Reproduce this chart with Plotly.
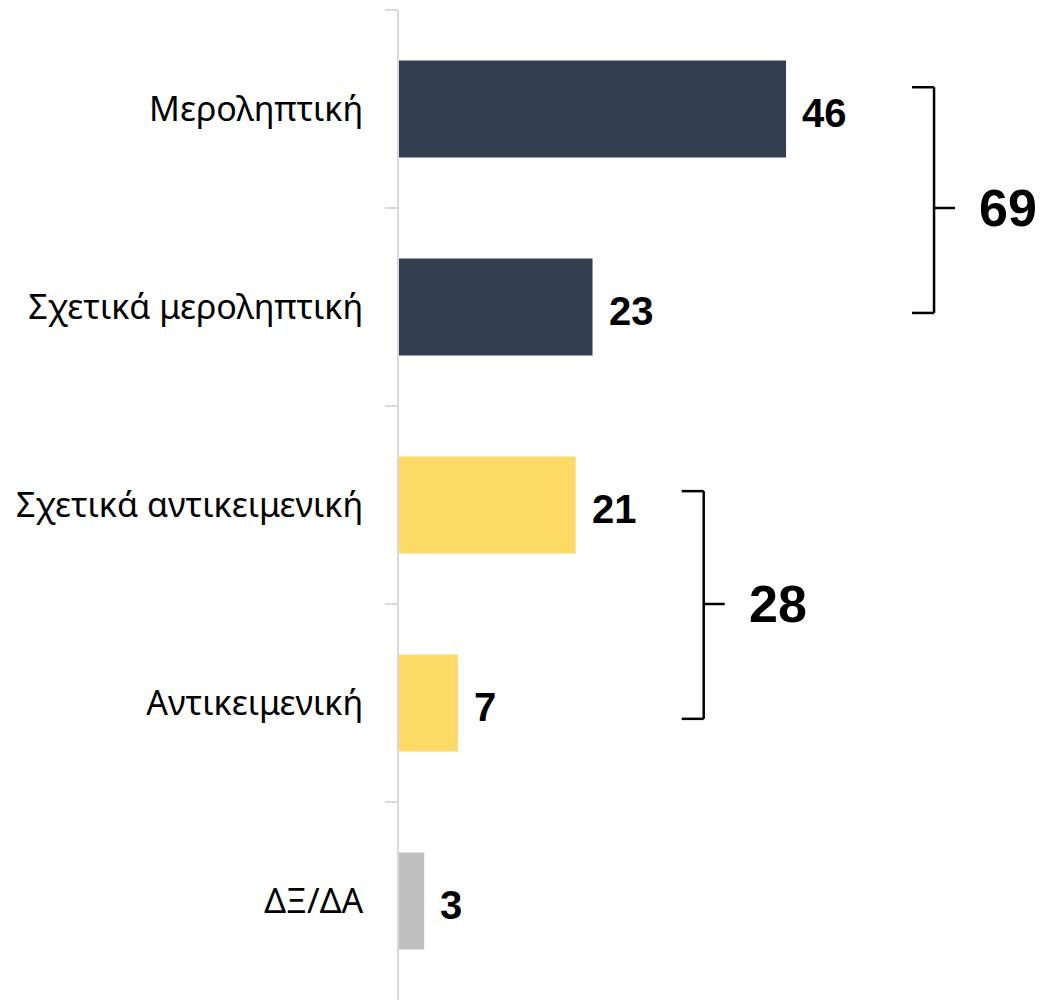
import plotly.graph_objects as go

categories = ["Μεροληπτική", "Σχετικά μεροληπτική", "Σχετικά αντικειμενική", "Αντικειμενική", "ΔΞ/ΔΑ"]
values = [46, 23, 21, 7, 3]
bar_colors = ["#343e51", "#343e51", "#fdd966", "#fdd966", "#bfbfbf"]

group_labels = ["69", "28"]
group_members = [[0, 1], [2, 3]]

W, H = 1041, 1004
ml, mr, mt, mb = 399, 0, 10, 4
xmax = 76.3

fig = go.Figure()
fig.add_trace(go.Bar(
    y=categories, x=values, orientation="h",
    marker=dict(color=bar_colors, line=dict(width=0)),
    hoverinfo="skip",
))

annotations = []
for c, v in zip(categories, values):
    annotations.append(dict(
        x=v, y=c, xref="x", yref="y", text=str(v), showarrow=False,
        xanchor="left", yanchor="middle", xshift=14, yshift=-4,
        font=dict(family="Liberation Sans", size=40, color="#000000", weight="bold"),
    ))

# brackets
px_per_unit = (W - ml - mr) / xmax
shapes = []
bracket_gap_px = [148, 128]   # distance from longest bar to bracket line
bracket_extent = [(-0.11, 1.03), (1.93, 3.08)]
for gi, (lab, mem) in enumerate(zip(group_labels, group_members)):
    vmax = max(values[i] for i in mem)
    xb = vmax + bracket_gap_px[gi] / px_per_unit
    arm = 22 / px_per_unit
    tick = 21 / px_per_unit
    y0, y1 = bracket_extent[gi]
    ym = (mem[0] + mem[-1]) / 2
    line = dict(color="#000000", width=2.5)
    shapes += [
        dict(type="line", xref="x", yref="y", x0=xb - arm, x1=xb, y0=y0, y1=y0, line=line),
        dict(type="line", xref="x", yref="y", x0=xb, x1=xb, y0=y0, y1=y1, line=line),
        dict(type="line", xref="x", yref="y", x0=xb - arm, x1=xb, y0=y1, y1=y1, line=line),
        dict(type="line", xref="x", yref="y", x0=xb, x1=xb + tick, y0=ym, y1=ym, line=line),
    ]
    annotations.append(dict(
        x=xb + tick, y=ym, xref="x", yref="y", text=lab, showarrow=False,
        xanchor="left", yanchor="middle", xshift=22, yshift=0,
        font=dict(family="Liberation Sans", size=52, color="#000000", weight="bold"),
    ))

fig.update_layout(
    width=W, height=H,
    margin=dict(l=ml, r=mr, t=mt, b=mb, pad=0),
    plot_bgcolor="white", paper_bgcolor="white",
    bargap=0.51, showlegend=False,
    shapes=shapes, annotations=annotations,
    xaxis=dict(range=[0, xmax], visible=False, fixedrange=True),
    yaxis=dict(
        autorange=False, range=[4.5, -0.5], type="category",
        showline=True, linecolor="#d9d9d9", linewidth=2,
        ticks="outside", ticklen=12, tickwidth=2, tickcolor="#d9d9d9",
        tickson="boundaries", showgrid=False, zeroline=False,
        ticklabelstandoff=27, fixedrange=True,
        tickfont=dict(family="Noto Sans", size=34, color="#000000"),
    ),
)

fig.write_html(
    "out.html",
    config={"displayModeBar": False},
    post_script="document.body.style.margin='0';document.body.style.overflow='hidden';",
)
